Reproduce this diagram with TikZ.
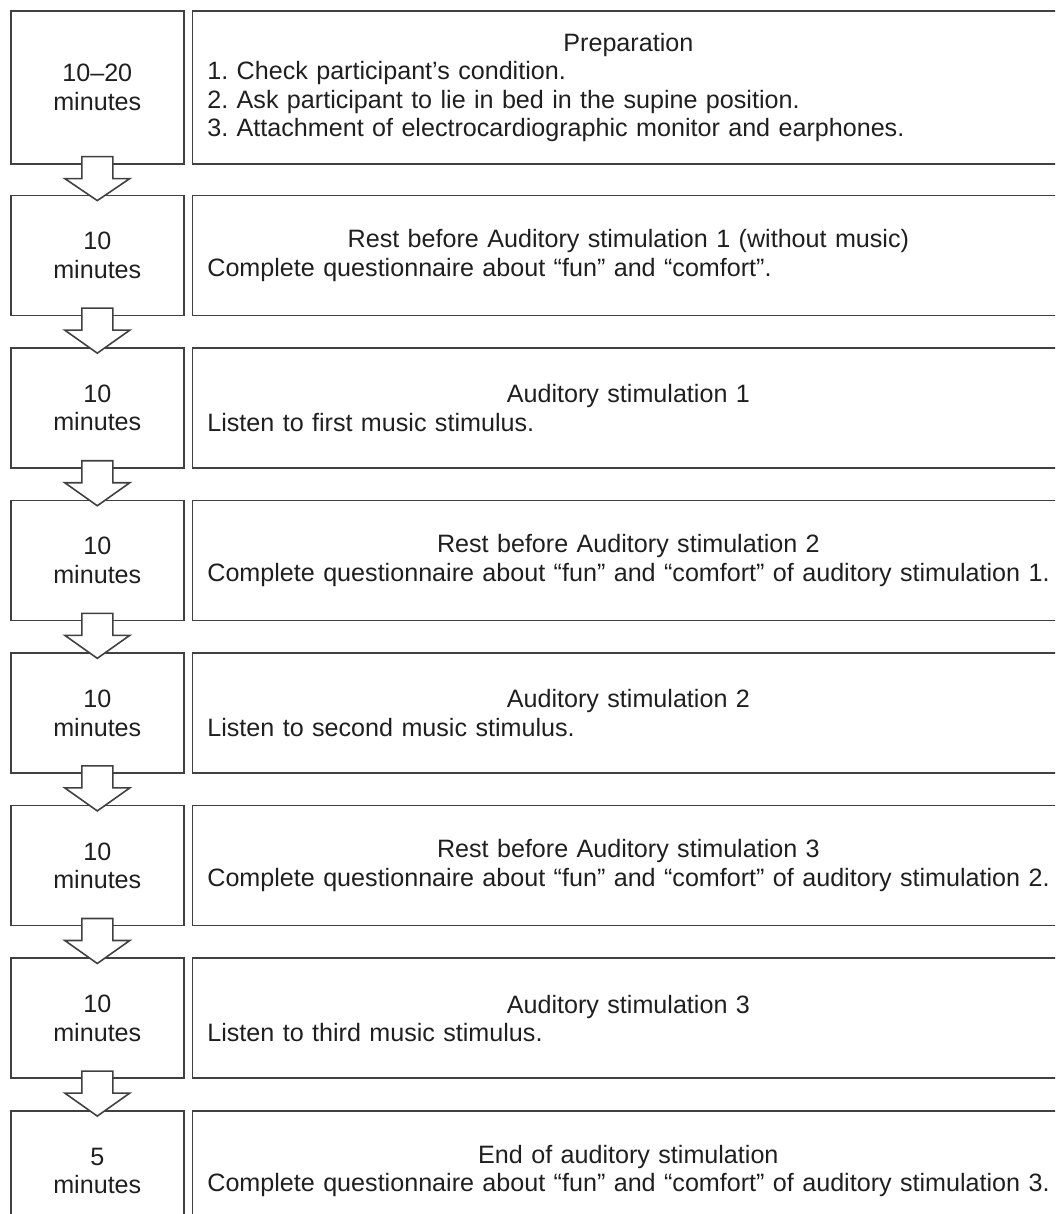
\documentclass[tikz,border=0pt]{standalone}
\usepackage{fontspec}
\setmainfont{Liberation Sans}
\usetikzlibrary{positioning,calc}
\frenchspacing
\newcommand{\steptitle}[1]{\makebox[16.84cm]{#1}}

\begin{document}
\begin{tikzpicture}[
  every node/.style={font=\fontsize{14.3}{16.2}\selectfont, text=black!88},
  timebox/.style={draw=black!75, line width=0.9pt, minimum width=3.46cm, minimum height=2.4cm, align=center, inner sep=0pt},
  stepbox/.style={draw=black!75, line width=0.9pt, minimum height=2.4cm, text width=17.2cm, align=left, inner xsep=0.3cm, inner ysep=0pt},
  blockarr/.style={draw=black!75, line width=0.9pt, fill=white, line join=miter},
]
  \useasboundingbox (0,0) rectangle (21.1,-24.28);
  \clip (0,0) rectangle (21.1,-24.28);

  % ---------- time column ----------
  \node[timebox, minimum height=3.06cm, anchor=north west] (t1) at (0.2,-0.2) {10–20\\minutes};
  \node[timebox, below=0.6cm of t1] (t2) {10\\minutes};
  \node[timebox, below=0.62cm of t2] (t3) {10\\minutes};
  \node[timebox, below=0.62cm of t3] (t4) {10\\minutes};
  \node[timebox, below=0.62cm of t4] (t5) {10\\minutes};
  \node[timebox, below=0.62cm of t5] (t6) {10\\minutes};
  \node[timebox, below=0.62cm of t6] (t7) {10\\minutes};
  \node[timebox, below=0.62cm of t7] (t8) {5\\minutes};

  % ---------- step column ----------
  \node[stepbox, minimum height=3.06cm, right=0.14cm of t1] (s1)
    {\steptitle{Preparation}\\
     1. Check participant’s condition.\\
     2. Ask participant to lie in bed in the supine position.\\
     3. Attachment of electrocardiographic monitor and earphones.};
  \node[stepbox, right=0.14cm of t2] (s2)
    {\steptitle{Rest before Auditory stimulation 1 (without music)}\\
     Complete questionnaire about “fun” and “comfort”.};
  \node[stepbox, right=0.14cm of t3] (s3)
    {\steptitle{Auditory stimulation 1}\\
     Listen to first music stimulus.};
  \node[stepbox, right=0.14cm of t4] (s4)
    {\steptitle{Rest before Auditory stimulation 2}\\
     Complete questionnaire about “fun” and “comfort” of auditory stimulation 1.};
  \node[stepbox, right=0.14cm of t5] (s5)
    {\steptitle{Auditory stimulation 2}\\
     Listen to second music stimulus.};
  \node[stepbox, right=0.14cm of t6] (s6)
    {\steptitle{Rest before Auditory stimulation 3}\\
     Complete questionnaire about “fun” and “comfort” of auditory stimulation 2.};
  \node[stepbox, right=0.14cm of t7] (s7)
    {\steptitle{Auditory stimulation 3}\\
     Listen to third music stimulus.};
  \node[stepbox, right=0.14cm of t8] (s8)
    {\steptitle{End of auditory stimulation}\\
     Complete questionnaire about “fun” and “comfort” of auditory stimulation 3.};

  % block arrows between the time boxes
  \foreach \a/\b in {1/2,2/3,3/4,4/5,5/6,6/7,7/8}
    \draw[blockarr] ($(t\a.south)+(-0.31,0.16)$) -- ($(t\a.south)+(-0.31,-0.28)$)
      -- ($(t\a.south)+(-0.65,-0.28)$) -- ($(t\b.north)+(0,-0.12)$)
      -- ($(t\a.south)+(0.65,-0.28)$) -- ($(t\a.south)+(0.31,-0.28)$)
      -- ($(t\a.south)+(0.31,0.16)$) -- cycle;
\end{tikzpicture}
\end{document}
